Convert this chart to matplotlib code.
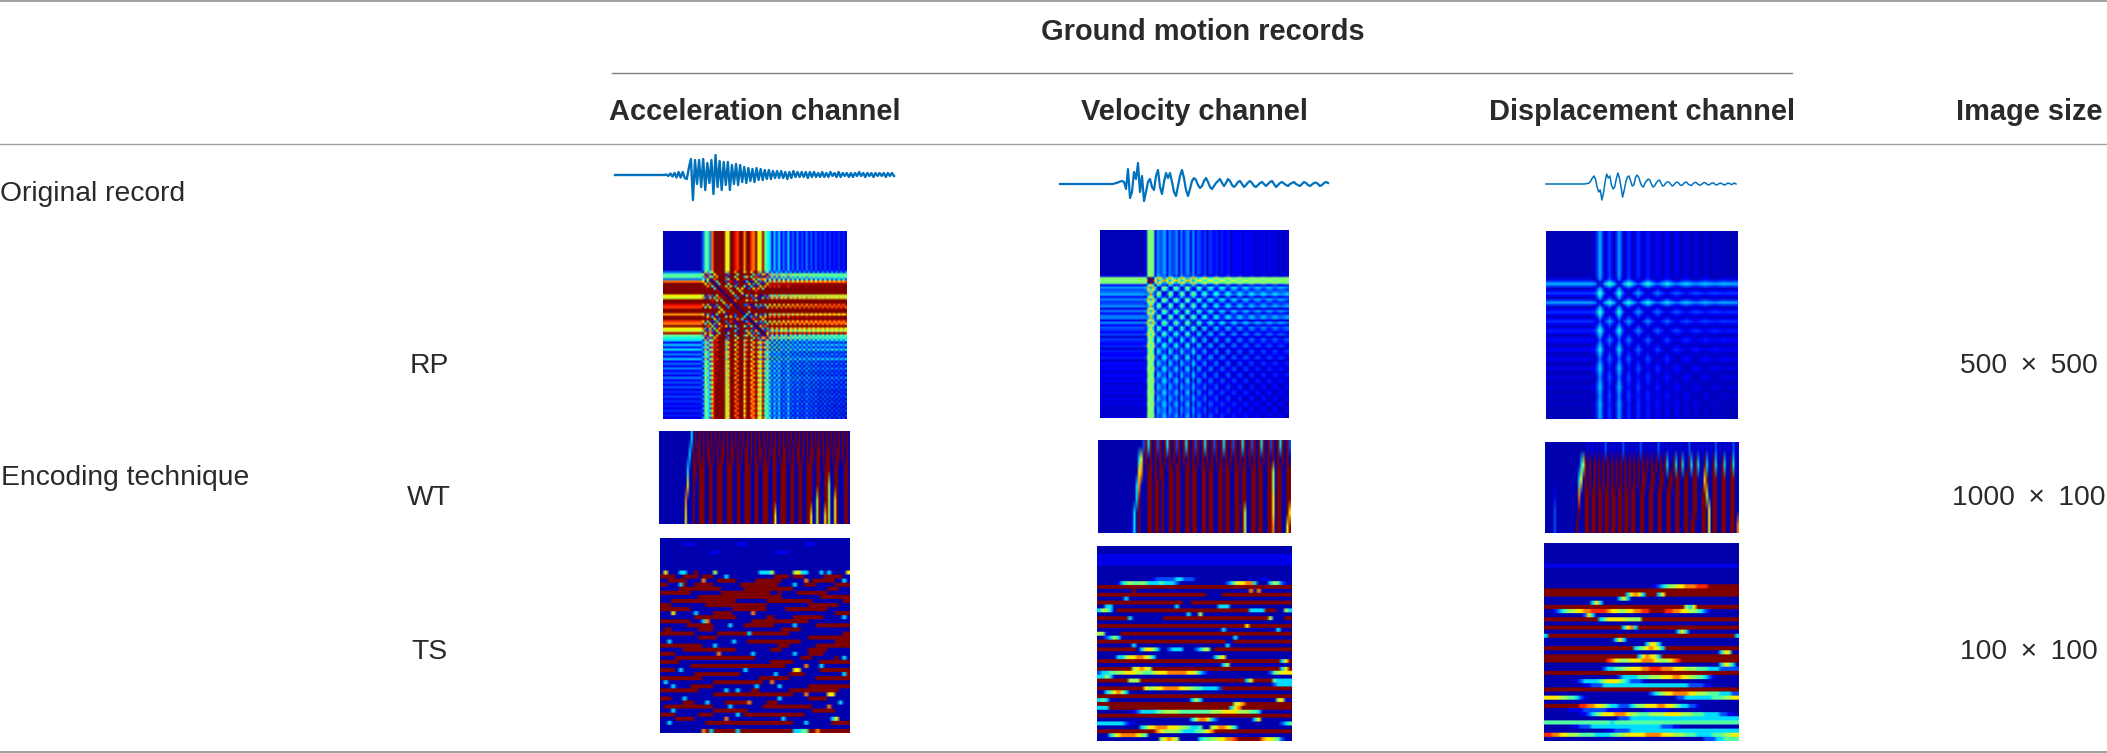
import numpy as np
import matplotlib
matplotlib.use('Agg')
import matplotlib.pyplot as plt

W, H = 2107, 753
plt.rcParams['font.family'] = ['Liberation Sans', 'DejaVu Sans']

channels = ['Acceleration channel', 'Velocity channel', 'Displacement channel']
rows_left = ['Original record', 'Encoding technique']
techniques = ['RP', 'WT', 'TS']
image_sizes = ['500\u2009 × \u2009500', '1000\u2009 × \u2009100', '100\u2009 × \u2009100']

# records, amplitude in px
acc_record = [0, 0, 0, 0, 0, 0, 0, 0, 0, 0, 0, 0, 0, 0, 0, 0, 0, 0, 0, 0, 0, 0, 0, 0, 0,
              .5, -1, 1.5, -1.5, 2, -2.5, 3, -2.5, 3, -3, -4, 7, 16, -25, 15, -9, 15, -12, 16, -15,
              12, -8, 15, -19, 20, -12, 14, -15, 13, -10, 13, -15, 10, -9, 11, -10, 10, -7, 8, -8,
              7, -6, 6, -7, 7, -5, 6, -5, 5, -4, 5, -4, 4, -3, 4, -3, 4, -3, 3, -4, 3, -3, 4, -2,
              3, -2, 3, -2, 3, -3, 3, -2, 3, -2, 2, -2, 3, -2, 2, -2, 3, -1, 2, -2, 3, -2, 2, -1,
              2, -2, 2, -2, 2, -1, 3, -1, 2, -2, 2, -1, 2, -2, 2, -1, 2, -1, 2, -2, 2, -1, 2, -1]
vel_record = [0, 0, 0, 0, 0, 0, 0, 0, 0, 0, 0, 0, 0, 0, 0, 0, 0, 0, 0, 0, 0, 0, 0, 0, 0, 0, 0,
              .3, 1, 1.5, 2.5, 3, 2, -5, 15, -14, -8, 12, 5, 21, -8, 8, -17, -8, 2, 5, -3, -6, 8, 14,
              -3, -10, 2, 11, 6, 11, 2, -8, -12, -2, 8, 14, 6, -6, -12, -5, 3, 6, 4, -1, -4, -2, 3, 6,
              2, -3, -5, -2, 1, 3, 5, 1, -2, 1, 5, 3, -1, -3, -1, 2, 3, 0, -3, -1, 1.5, 3, 1, -2, -3,
              -1, 1, 2, 0, -2, 0, 2, 3, 0, -3, -1, 1, 2, .5, -1, -2, 0, 1, 2, 0, -1, -2, 0, 2, 1, -1,
              -2, -.5, 1, 1.5, 0, -2, -1, 1, 2, 1]
disp_record = [0, 0, 0, 0, 0, 0, 0, 0, 0, 0, 0, 0, 0, 0, 0, 0, 0, 0, 0, 0, 0, 0, 0, 0, 0,
               .3, .5, 1, 3, 6, 8, 5, -3, -8, -6, -16, -9, 2, 10, 6, 8, -1, -5, -3, 5, 11, 6, -3, -13, -6, 2,
               7, 8, 3, -2, -1, 6, 9, 7, 2, -2, -3, 1, 3, 5, 4, 0, -3, -2, 1, 3, 4, 1, -2, -1.5, 1, 2, 2, 0,
               -2, -1, 1, 2, 1, -1, -1.5, 0, 1.5, 2, 0, -1, -1.5, 0, 1.5, 1.5, 0, -1, -1, .5, 1.5, 1, -.5, -1,
               0, 1, 1, -.5, -1, 0, 1, .5, -.5, -1, 0, 1, .5, -.5, 0, 1, 0]

# recurrence plot profiles, one value per 1/80 of the side
acc_profile = [0, 0, 0, 0, 0, 0, 0, 0, 0, 0, 0, 0, 0, 0, 0, 0, 0, .18, -.38, .42, -.2, .75, -.95, 1.1, -1.3,
               2.0, -2.4, .6, -.55, 1.6, -3.0, .85, -.8, 2.6, -1.9, .7, 1.05, -1.5, .8, -.72, 1.2, -.6, .55,
               -.9, .42, -.33, .3, -.08, .28, -.1, .3, -.06, .2, -.08, .28, -.06, .18, -.05, .2, -.06, .15,
               -.05, .2, -.06, .15, -.05, .16, -.04, .12, -.05, .14, -.04, .12, -.05, .1, -.04, .12, -.03, .1, -.04]
vel_profile = [0, 0, 0, 0, 0, 0, 0, 0, 0, 0, 0, 0, 0, 0, 0, 0, 0, 0, 0, .04, .46, -.46, .45, .09, -.22, -.15, .19,
               .25, .08, -.21, -.13, .15, .22, .04, -.2, -.09, .19, .21, -.04, -.22, -.07, .16, .13, -.07, -.14, .02,
               .13, .1, -.07, -.11, .02, .1, .07, -.06, -.1, .01, .08, .06, -.05, -.07, .02, .07, .05, -.04, -.06,
               .01, .05, .04, -.03, -.05, .01, .05, .03, -.03, -.04, .01, .03, .02, -.02, -.03]
disp_profile = [0, 0, 0, 0, 0, 0, 0, 0, 0, 0, 0, 0, 0, 0, 0, 0, 0, 0, 0, .01, .03, .14, .26, .14, 0, -.06, -.13, -.06,
                0, .12, .24, .12, 0, -.06, -.12, -.06, 0, .06, .12, .06, 0, -.05, -.1, -.05, 0, .04, .08, .04, 0,
                -.03, -.07, -.03, 0, .03, .05, .03, 0, -.02, -.04, -.02, 0, .02, .03, .02, 0, -.01, -.03, -.01, 0,
                .01, .02, .01, 0, -.01, -.01, 0, 0, 0, 0, 0]

# colour levels of the encoded images, one digit per cell
wt_acc = [
    "0000000000000000" + "30909090909090909090909090909090909090909090909090909090909090909090909090909090",
    "0000000000000003" + "09099090990909099090990909099090909909090990909909090990909099099090990909909090",
    "0000000000000030" + "09909990099009990099900990099900990099900990099900990099009990099009990099000990",
    "0000000000000060" + "09009990099009990099900990099900990099900990099900990099009990099009950099000990",
    "0000000000000700" + "09009990099009990099900990099900990099900990099900990099009990059009950069000990",
    "0000000000000600" + "09009990099009990099900990099900990099900960099900990099009960059006950069000990",
]
wt_vel = [
    "00000000000000000002" + "93909290939092909390929093909290939092909390929093909290939092",
    "00000000000000000360" + "90909090909090909090909090909090909090909090909090909090909090",
    "00000000000000000670" + "09909099009909900990990099099009909900990990099099009950990099",
    "00000000000000003700" + "09909909009909900990990099099009909900990990099099009950990099",
    "00000000000000003900" + "09909909009909900990990099099009909900990990099099009960990099",
    "00000000000000030900" + "09909909009909900990990099099009909900990950099099009960990096",
    "00000000000000130900" + "09909909009909900990990099099009909900990950099099009970990069",
]
wt_disp = [
    "000000000000000000" + "0101010102010101020101010201010102010101010101020101010101020101010201",
    "000000000000000035" + "9090909090909090909090909090909090909300930930093093009300930093009300",
    "000000000000000360" + "9090909090909090909090909099009900990099099009900990006900990099009900",
    "000010000000000700" + "9909909909909909909909900990099009900990099009900990099500990099009900",
    "000020000000000900" + "9909909909909909909909900990099009900990099009900990099060990099009900",
    "000020000000009000" + "9909909909909909909909900990099009900990099009909900099060990099009907",
]
ts_acc = [
    "00000000000000000000000000000000000000000000000000",
    "00000011100000000000111000000000000000111000000000",
    "00000000000000000000000000000000000000000000000000",
    "00000000000001110000000000000011110000000000000000",
    "00000000000000000000000000000000000000000000000000",
    "00000000000000000000000000000000000000000000000000",
    "00000000000000000000000000000000000000000000000000",
    "00000000000000000000000000000000000000000000000000",
    "06000330090000500000000000333500000563300030300006",
    "99990099990999000300000000000099990999000009999900",
    "00999990000700099999000009999999000000709999990030",
    "99000390099999000000099999999990000300999000009999",
    "00000999999999990000009999999999999000000000999000",
    "99999999000000009999999999999009000099999999000000",
    "00000000009999999999999999999999000000000099999999",
    "00099999999999999999000000009999999999990000000099",
    "99900000000099999999999999990000000000099999999000",
    "99999999000000000009999999990000099999999999000000",
    "00060000030000999990000070000000000000000000009999",
    "00000000099999999999000000009900000999999990000030",
    "99999999000370000000000099999999999999900000000000",
    "00000009999999000030009999999900000300000999999999",
    "09900000009999000000000000000000999990000000000000",
    "99999999900000099999999399999999990000000000000099",
    "00000000009999900000000000000000000000099999999999",
    "00300000000000000003000999999999999990000000009999",
    "99999999999000300000000000000009990000000999999999",
    "00000099999999999999000000000999000000099999000000",
    "99990000000000070000000030000000000300099990000000",
    "00009999999999999999999990000000000009990000009030",
    "99999000000000000000000000000999999000000099999999",
    "00000000999999999999999999999999900000700030000000",
    "99990300000000000000003000000000000660000099999999",
    "00000000099999999999900000000030009999000000000039",
    "99999999999000000000000000999999990000000999999999",
    "03000000000000999999999999900700000000000000000000",
    "00030000999999000000000003000003000000099999999999",
    "99999999990000000300300099000000009999999999999000",
    "00000000000000999999999999999999999000700000660000",
    "99900030000000000000000000000003000000099999000000",
    "00000099900030000999999700009990000000000000000300",
    "09999999999999000030000000099999999999990000700000",
    "00030000000000999999999000000000000000009999990000",
    "99990000009999000000309999999999999999000000000000",
    "00009999900000000700000000000000300000000000036000",
    "00300000000099999999999999999999999000300000099999",
    "00000000000000000000000000000000000000000000000000",
    "00000000000793999999399999999999999334499799999999",
]
ts_vel = [
    "00000000000000000000000000000000000000000000000000",
    "00000000000000000000000000000000000000000000000000",
    "11111111111111111111111111111111111111111111111111",
    "11111111111111111111111111111111111111111111111111",
    "11111111111111111111111111111111111111111111111111",
    "00000000000000000000000000000000000000000000000000",
    "00000000000000000000000000000000000000000000000000",
    "00000000000000000000000000000000000000000000000000",
    "00000000000000122222332220000000000000010011000000",
    "00000134544543334333200000000000023566773000354210",
    "99999999999999999999999999999999999999999999999999",
    "00000000090000000000000000000000000000070700000000",
    "99999999999999999999999999990000999999999999999999",
    "00000003000000000000000000000000000000000000000000",
    "99999999999999999999990099999999999999999999999999",
    "00330000000000000000300000000003330000000000000000",
    "35530999999999999999999999999999999999933339990053",
    "00000000000000000000000300500000000000000000000000",
    "99999999300000000999999999999999999999999999500099",
    "00000000000000000000000000000000000000000000000000",
    "99999999999999999999999999999999999999699999999999",
    "00000000000000000000000000000000300000000000003000",
    "55100099999999999999999999999999999999999999999999",
    "00235300000000000000000000000000000300000000000000",
    "99999999999999999999999999999999900999999999999999",
    "00000000030000000000000000000000030000000000000000",
    "99999999990366530023330002355099999999999999999999",
    "00000000000000000000000000000000000000000000000000",
    "00000335667765300000000000000035600000000000000000",
    "99999999999999999999999999999999999999999999999369",
    "00000000000000000000000000000000350000000000000000",
    "99999999956765999999999999999999999999999999999369",
    "23344556665544566677777665321000000000000000245666",
    "33530000000000000000000000000000000000000000000000",
    "99999999555999999999999999999999999999369999943333",
    "00000000000000000000000000000000000000000000023333",
    "99999999999965566777766554433332999999999999999999",
    "00346753000000000000000000000000000000000000000000",
    "99999999999999999999999999999999999999999999999999",
    "34300000000000000000000035300000000000000000005610",
    "99999999999999999999999999999999999567999999999999",
    "33399999999999999999999999999999993679999999999999",
    "00000000012333344555544444444555666655544300000000",
    "99999999999999999999999999999999999999999999999999",
    "00000000000000000000000035776320000000003600000000",
    "33333332110000000000000000000000000000000000000234",
    "00000000000346677766655433400567765300000000000000",
    "99999999999999976555543334456799999999999999999999",
    "00035677776540000000000000000000000000000000000000",
    "00000000000000005676500000344556677899999976654200",
]
ts_disp = [
    "00000000000000000000000000000000000000000000000000",
    "00000000000000000000000000000000000000000000000000",
    "00000000000000000000000000000000000000000000000000",
    "00000000000000000000000000000000000000000000000000",
    "00000000000000000000000000000000000000000000000000",
    "11111111111111111111111111111111111111111111111111",
    "00000000000000000000000000000000000000000000000000",
    "00000000000000000000000000000000000000000000000000",
    "00000000000000000000000000000000000000000000000000",
    "00000000000000000000000000000000000000000000000000",
    "00000000000000000000000000001234556677788899999999",
    "99999999999999999999999999999999999999999999999999",
    "99999999999999999999936763999369999999999999999999",
    "00000000000000000003630000000000000000000000000000",
    "00000000000036300000000000000000000000000000000000",
    "99999999999999999999999999999999999953699999999999",
    "00123455667788887665566778899998877665543210000000",
    "00000000002630000000000000000000000000000000000000",
    "99999999999999346666655559999999999999999999999999",
    "00000000000000000000000000000000000000000000000000",
    "99999999999999999999367399999999999999999999999999",
    "00000000000000000000000000000000003630000000000000",
    "39999999999999999999999999999999999999999999999993",
    "00000000000000000036300000000000000000000000000000",
    "00000000000000000000000000366300000000000000000000",
    "99999999999999999999999345676539999999999999999999",
    "00000000000000000000000000000000000000000000036500",
    "99999999999999999999999936766399999999999999999999",
    "99999999999999998765556667776555678999999999999999",
    "00000000000000000000000000000000000000000000036530",
    "00000000000000023344556667788877766655544433322222",
    "99999999999999999999999999999999999999999999999999",
    "00000000000000000002333344455566677665544321000000",
    "00000000123333456665432221000000000000000000000000",
    "00000000001122233333333333333333333332222110000000",
    "99999999999999999999999999999999999999999999999999",
    "00000000000000000000000000023456677776655544433322",
    "66665544321000000000000000000000002233333334445566",
    "00000000000000000000000000000000000000000000000000",
    "99999999988776654332223455666776654332210000000000",
    "00000011112222221111000000111111000000000000000000",
    "00000000011234566677765544455556666555444333322110",
    "00000000000000000002223333333333333333333333333333",
    "44444444444444444344444444444444444444444444444444",
    "00000001122233333333333333333322211000000000000000",
    "00000000000000001122223333333333333333333333333333",
    "88776655544443333445566666777766655544433334445566",
    "00000000000000000000000000000000000000000222334444",
]

line_color = '#a0a0a0'
text_color = '#2a2a2a'
record_color = '#0072BD'
jet_levels = np.array([.04, .09, .2, .34, .45, .55, .66, .77, .87, 1.0])


def panel(x0, y0, x1, y1):
    ax = fig.add_axes([x0 / W, 1 - y1 / H, (x1 - x0) / W, (y1 - y0) / H])
    ax.axis('off')
    return ax


def show_levels(box, rows, stretch=1):
    n = max(len(r) for r in rows)
    cells = np.array([[int(c) for c in r.ljust(n, r[-1])] for r in rows])
    rgb = plt.cm.jet(jet_levels[cells])[..., :3]
    # keep the rows crisp, blur only along the row
    rgb = np.repeat(rgb, stretch, axis=0)
    panel(*box).imshow(rgb, aspect='auto', interpolation='bilinear')


def show_recurrence(box, profile):
    p = np.array(profile)
    dist = np.abs(p[:, None] - p[None, :]) + .05
    panel(*box).imshow(dist, cmap='jet', vmin=0, vmax=1, aspect='auto', interpolation='bilinear')


def show_record(x0, x1, baseline, values, lw):
    ax = panel(x0, baseline - 30, x1, baseline + 30)
    ax.plot(values, color=record_color, lw=lw, clip_on=False)
    ax.set_xlim(0, len(values) - 1)
    ax.set_ylim(-30, 30)


fig = plt.figure(figsize=(W / 100, H / 100), dpi=100)
bg = fig.add_axes([0, 0, 1, 1])
bg.set_xlim(0, W)
bg.set_ylim(H, 0)
bg.axis('off')

bg.plot([0, W], [.5, .5], color=line_color, lw=1.4)
bg.plot([612, 1792], [72.5, 72.5], color='#808080', lw=1.0)
bg.plot([0, W], [143.5, 143.5], color=line_color, lw=1.0)
bg.plot([0, W], [751.5, 751.5], color=line_color, lw=1.4)

fs_bold = 20.9
fs = 20.3
bg.text(1203, 32, 'Ground motion records', ha='center', va='center', fontsize=fs_bold, fontweight='bold', color=text_color)
for x, name in zip([755, 1194, 1642], channels):
    bg.text(x, 112, name, ha='center', va='center', fontsize=fs_bold, fontweight='bold', color=text_color)
bg.text(2029, 112, 'Image size', ha='center', va='center', fontsize=fs_bold, fontweight='bold', color=text_color)
bg.text(0, 194, rows_left[0], ha='left', va='center', fontsize=fs, color=text_color)
bg.text(1, 478, rows_left[1], ha='left', va='center', fontsize=fs, color=text_color)
for y, t, s in zip([366, 498, 652], techniques, image_sizes):
    bg.text(429, y, t, ha='center', va='center', fontsize=fs, color=text_color)
    bg.text(2029, y, s, ha='center', va='center', fontsize=fs, color=text_color)

show_record(615, 894, 175, acc_record, 1.7)
show_record(1060, 1328, 184, vel_record, 1.6)
show_record(1546, 1736, 184, disp_record, 1.1)

show_recurrence((663, 231, 847, 419), acc_profile)
show_recurrence((1100, 230, 1289, 418), vel_profile)
show_recurrence((1546, 231, 1737, 419), disp_profile)

show_levels((659, 431, 850, 524), wt_acc)
show_levels((1098, 440, 1291, 533), wt_vel)
show_levels((1545, 442, 1738, 533), wt_disp)

show_levels((660, 538, 850, 733), ts_acc, 5)
show_levels((1097, 546, 1292, 741), ts_vel, 5)
show_levels((1544, 543, 1739, 741), ts_disp, 5)

fig.savefig('out.png', dpi=100)
